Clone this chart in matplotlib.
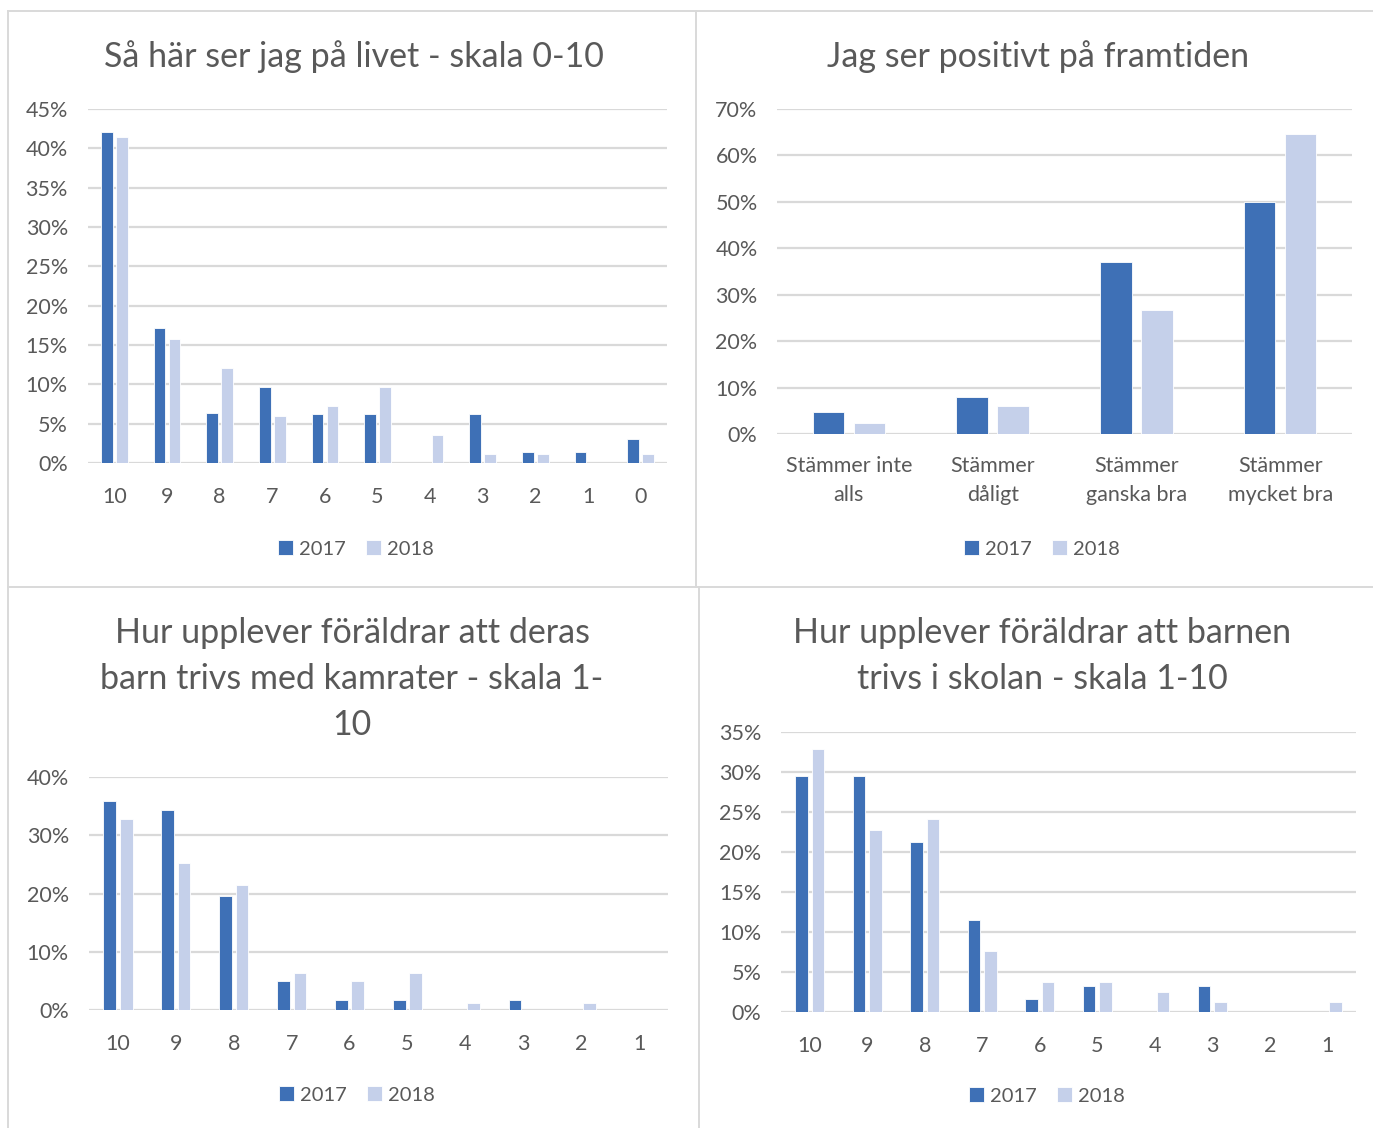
import numpy as np
import matplotlib.pyplot as plt
from matplotlib.lines import Line2D

plt.rcParams['font.family'] = ['Lato', 'DejaVu Sans']

W, H = 1373, 1128
TXT = '#595959'
GRID = '#D9D9D9'
C17 = '#3E70B6'
C18 = '#C5D0EA'

# --- data (percent) ---
cat_livet = ['10', '9', '8', '7', '6', '5', '4', '3', '2', '1', '0']
livet_2017 = [42.1, 17.1, 6.4, 9.6, 6.2, 6.2, 0.0, 6.2, 1.4, 1.4, 3.1]
livet_2018 = [41.4, 15.8, 12.1, 6.0, 7.2, 9.7, 3.6, 1.1, 1.1, 0.0, 1.1]

cat_framtid = ['Stämmer inte\nalls', 'Stämmer\ndåligt', 'Stämmer\nganska bra', 'Stämmer\nmycket bra']
framtid_2017 = [4.7, 8.0, 37.1, 50.0]
framtid_2018 = [2.4, 6.0, 26.8, 64.7]

cat_kamrater = ['10', '9', '8', '7', '6', '5', '4', '3', '2', '1']
kamrater_2017 = [35.9, 34.4, 19.6, 5.0, 1.7, 1.7, 0.0, 1.7, 0.0, 0.0]
kamrater_2018 = [32.8, 25.2, 21.4, 6.3, 5.0, 6.3, 1.2, 0.0, 1.2, 0.0]

cat_skolan = ['10', '9', '8', '7', '6', '5', '4', '3', '2', '1']
skolan_2017 = [29.5, 29.5, 21.3, 11.5, 1.6, 3.3, 0.0, 3.3, 0.0, 0.0]
skolan_2018 = [32.9, 22.8, 24.1, 7.6, 3.8, 3.8, 2.5, 1.2, 0.0, 1.2]

fig = plt.figure(figsize=(W / 100, H / 100), dpi=100)


def px_axes(x0, x1, ytop, ybot):
    return fig.add_axes([x0 / W, 1 - ybot / H, (x1 - x0) / W, (ybot - ytop) / H])


def panel(box, cats, v17, v18, ymax, step, title, title_xy, legend_xy, ypad, xpad):
    ax = px_axes(*box)
    x = np.arange(len(cats))
    w, d = 0.22, 0.1425
    ax.bar(x - d, v17, w, color=C17, edgecolor='white', linewidth=0.6, label='2017', zorder=3)
    ax.bar(x + d, v18, w, color=C18, edgecolor='white', linewidth=0.6, label='2018', zorder=3)
    ax.set_xlim(-0.5, len(cats) - 0.5)
    ax.set_ylim(0, ymax)
    ax.set_yticks(np.arange(0, ymax + 0.01, step))
    ax.set_yticklabels(['%d%%' % t for t in np.arange(0, ymax + 0.01, step)])
    ax.set_xticks(x)
    ax.set_xticklabels(cats, linespacing=1.55)
    for s in ax.spines.values():
        s.set_visible(False)
    ax.yaxis.grid(True, color=GRID, linewidth=1.6)
    ax.set_axisbelow(True)
    ax.tick_params(axis='y', length=0, pad=ypad, labelsize=15.5, labelcolor=TXT)
    ax.tick_params(axis='x', length=0, pad=xpad, labelsize=15.5, labelcolor=TXT)
    fig.text(title_xy[0] / W, 1 - title_xy[1] / H, title, ha='center', va='center',
             fontsize=24.5, color=TXT, linespacing=1.52)
    ax.legend(loc='center', bbox_to_anchor=(legend_xy[0] / W, 1 - legend_xy[1] / H),
              bbox_transform=fig.transFigure, ncol=2, frameon=False, fontsize=14.5,
              labelcolor=TXT, handlelength=0.75, handleheight=0.75, handletextpad=0.3,
              columnspacing=1.0)
    return ax


panel((88, 667, 109, 463), cat_livet, livet_2017, livet_2018, 45, 5,
      'Så här ser jag på livet - skala 0-10', (354, 57), (356, 549), 14.5, 17)
panel((777, 1352, 109, 434), cat_framtid, framtid_2017, framtid_2018, 70, 10,
      'Jag ser positivt på framtiden', (1038, 57), (1042, 549), 14, 16)
panel((89, 668, 777, 1010), cat_kamrater, kamrater_2017, kamrater_2018, 40, 10,
      'Hur upplever föräldrar att deras\nbarn trivs med kamrater - skala 1-\n10',
      (352, 679), (357, 1095), 14.5, 17)
panel((781, 1356, 732, 1012), cat_skolan, skolan_2017, skolan_2018, 35, 5,
      'Hur upplever föräldrar att barnen\ntrivs i skolan - skala 1-10',
      (1042, 656), (1047, 1096), 14, 17)

# panel borders
def fline(x0, y0, x1, y1):
    fig.add_artist(Line2D([x0 / W, x1 / W], [1 - y0 / H, 1 - y1 / H],
                          color=GRID, linewidth=1.4, transform=fig.transFigure))

fline(8, 11, W, 11)
fline(8, 11, 8, H)
fline(696, 11, 696, 587)
fline(8, 587, W, 587)
fline(699, 587, 699, H)

fig.savefig('out.png', dpi=100, facecolor='white')
